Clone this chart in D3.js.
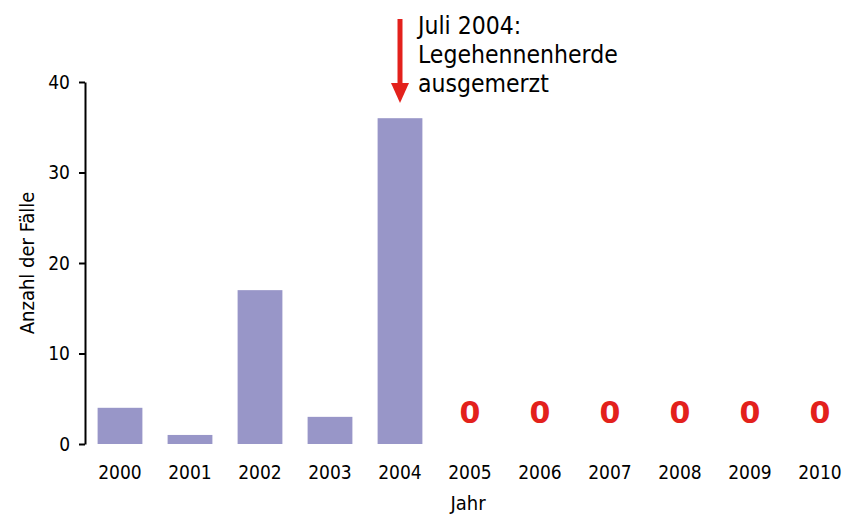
<!DOCTYPE html>
<html><head><meta charset="utf-8">
<script src="https://cdn.jsdelivr.net/npm/d3@7"></script>
<style>body{margin:0;background:#fff}svg{display:block}text{font-family:"DejaVu Sans Condensed","DejaVu Sans",sans-serif;font-stretch:condensed}</style>
</head><body><svg id="c" width="842" height="516"></svg>
<script>
const years = ["2000","2001","2002","2003","2004","2005","2006","2007","2008","2009","2010"];
const cases = [4,1,17,3,36,0,0,0,0,0,0];
const yTicks = [0,10,20,30,40];
const yTitle = "Anzahl der Fälle";
const xTitle = "Jahr";
const noteLines = ["Juli 2004:","Legehennenherde","ausgemerzt"];
const noteYear = "2004";

const FF = '"DejaVu Sans Condensed","DejaVu Sans",sans-serif';
const svg = d3.select("#c");
const x = d3.scaleBand().domain(years).range([85,855]).paddingInner(0.36).paddingOuter(0.18);
const y = d3.scaleLinear().domain([0,40]).range([444,82]);

svg.append("g").selectAll("rect").data(years.map((k,i)=>({k,v:cases[i]})).filter(d=>d.v>0))
  .join("rect").attr("x",d=>x(d.k)).attr("width",x.bandwidth())
  .attr("y",d=>y(d.v)).attr("height",d=>y(0)-y(d.v)).attr("fill","#9896c8");

svg.append("g").selectAll("text").data(years.map((k,i)=>({k,v:cases[i]})).filter(d=>d.v===0))
  .join("text").attr("x",d=>x(d.k)+x.bandwidth()/2).attr("y",y(0)-21)
  .attr("text-anchor","middle").attr("font-size",30).attr("font-weight","bold")
  .style("font-family",'"DejaVu Sans",sans-serif').style("font-stretch","normal")
  .attr("fill","#e3211c").text(d=>d.v);

const ya = svg.append("g").attr("transform","translate(85,0)")
  .call(d3.axisLeft(y).tickValues(yTicks).tickSize(6).tickSizeOuter(0).tickPadding(9));
ya.select(".domain").attr("stroke","#000").attr("stroke-width",2);
ya.selectAll(".tick line").attr("stroke","#000").attr("stroke-width",2);
ya.selectAll(".tick text").attr("font-size",19).attr("font-family",FF).attr("fill","#000");

const xa = svg.append("g").attr("transform","translate(0,444)")
  .call(d3.axisBottom(x).tickSize(0).tickPadding(22));
xa.select(".domain").remove();
xa.selectAll(".tick text").attr("font-size",19).attr("font-family",FF).attr("fill","#000");

svg.append("text").attr("transform","translate(34,263) rotate(-90)").attr("text-anchor","middle")
  .attr("font-size",20).text(yTitle);
svg.append("text").attr("x",468).attr("y",510).attr("text-anchor","middle").attr("font-size",20).text(xTitle);

const ax = x(noteYear)+x.bandwidth()/2;
svg.append("line").attr("x1",ax).attr("x2",ax).attr("y1",19).attr("y2",86)
  .attr("stroke","#e3211c").attr("stroke-width",5);
svg.append("path").attr("d",`M${ax-9},83L${ax+9},83L${ax},103Z`).attr("fill","#e3211c");
svg.append("g").selectAll("text").data(noteLines).join("text")
  .attr("x",418).attr("y",(d,i)=>34+i*29).attr("font-size",24.5).attr("fill","#000").text(d=>d);
</script></body></html>
